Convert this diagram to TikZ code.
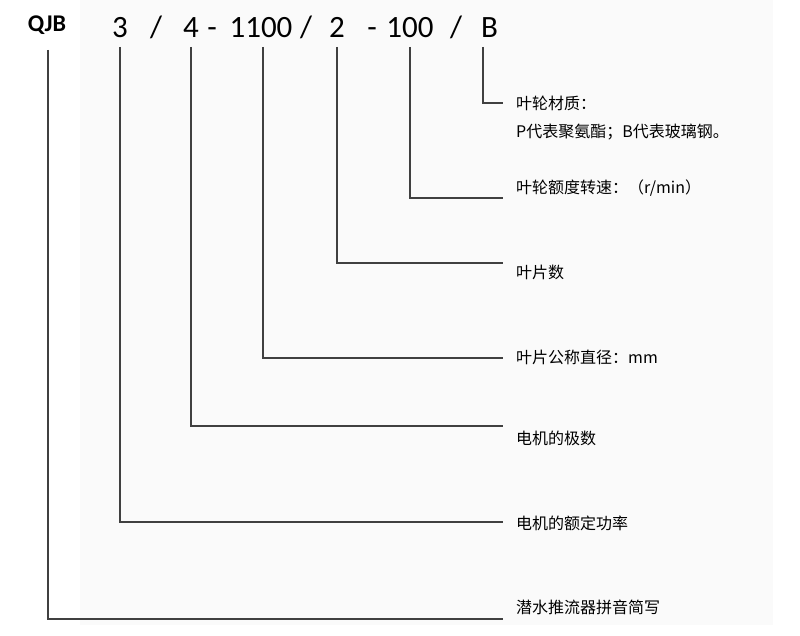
\documentclass[tikz,border=0pt]{standalone}
\usepackage{fontspec}
\setmainfont{Carlito}
\newfontfamily\cjk{Noto Sans CJK SC}
\usepackage{tikz}

\begin{document}
\begin{tikzpicture}[x=1pt, y=-1pt, font=\cjk\fontsize{16}{18}\selectfont]
  % ------- styles -------
  \tikzstyle{code}=[inner sep=0pt, anchor=base, font=\fontsize{31}{34}\selectfont]
  \tikzstyle{desc}=[inner sep=0pt, anchor=west]
  \tikzstyle{lead}=[draw=black!75, line width=1.6pt, shorten <=9pt]

  \useasboundingbox (0,0) rectangle (800,636);
  \fill[black!2] (80,0) rectangle (773,625);

  % ------- model code -------
  \node[code, font=\bfseries\fontsize{24}{26}\selectfont] (qjb) at (47,32) {QJB};
  \node[code] (power) at (120,38) {3};
  \node[code] (slashA) at (156,38) {/};
  \node[code] (poles) at (191,38) {4};
  \node[code] (dashA) at (212,38) {-};
  \node[code] (diam) at (261,38) {1100};
  \node[code] (slashB) at (306,38) {/};
  \node[code] (blades) at (337,38) {2};
  \node[code] (dashB) at (372,38) {-};
  \node[code] (speed) at (410,38) {100};
  \node[code] (slashC) at (456,38) {/};
  \node[code, anchor=base west] (mat) at (481,38) {B};

  % ------- descriptions -------
  \node[desc] (matA) at (516,103) {叶轮材质：};
  \node[desc] (matB) at (516,132) {P代表聚氨酯；B代表玻璃钢。};
  \node[desc] (speedL) at (516,188) {叶轮额度转速：（r/min）};
  \node[desc] (bladesL) at (516,272) {叶片数};
  \node[desc] (diamL) at (516,357) {叶片公称直径：mm};
  \node[desc] (polesL) at (516,438) {电机的极数};
  \node[desc] (powerL) at (516,523) {电机的额定功率};
  \node[desc] (qjbL) at (516,607) {潜水推流器拼音简写};

  % line ends
  \coordinate (eMat) at (503,103);
  \coordinate (eSpeed) at (503,198);
  \coordinate (eBlades) at (503,263);
  \coordinate (eDiam) at (503,358);
  \coordinate (ePoles) at (503,426);
  \coordinate (ePower) at (503,522);
  \coordinate (eQjb) at (503,619);

  % ------- leader lines -------
  \draw[lead] ([xshift=2pt]mat.base west) |- (eMat);
  \draw[lead] (speed.base) |- (eSpeed);
  \draw[lead] (blades.base) |- (eBlades);
  \draw[lead] ([xshift=2pt]diam.base) |- (eDiam);
  \draw[lead] (poles.base) |- (ePoles);
  \draw[lead] (power.base) |- (ePower);
  \draw[lead, shorten <=18pt] ([xshift=1pt]qjb.base) |- (eQjb);
\end{tikzpicture}
\end{document}
